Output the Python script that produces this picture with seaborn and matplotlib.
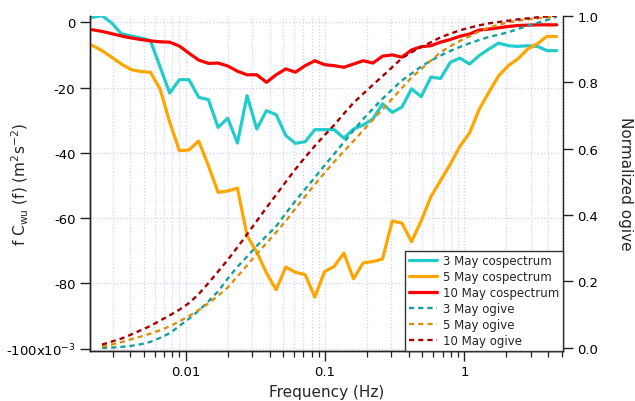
import numpy as np
import pandas as pd
import seaborn as sns
import matplotlib
matplotlib.use("Agg")
import matplotlib.pyplot as plt
from matplotlib.ticker import FixedLocator, FixedFormatter, LogLocator, NullFormatter

# Bin-centre frequencies (Hz), log-spaced bins
freq = [0.002135, 0.002506, 0.002940, 0.003450, 0.004049, 0.004750, 0.005574,
        0.006541, 0.007675, 0.009006, 0.01057, 0.01240, 0.01455, 0.01708,
        0.02004, 0.02351, 0.02759, 0.03237, 0.03799, 0.04458, 0.05231,
        0.06138, 0.07203, 0.08452, 0.09918, 0.1164, 0.1366, 0.1603, 0.1880,
        0.2207, 0.2588, 0.3037, 0.3564, 0.4182, 0.4907, 0.5758, 0.6755,
        0.7927, 0.9302, 1.091, 1.281, 1.503, 1.764, 2.070, 2.429, 2.850,
        3.344, 3.925, 4.605]

# Frequency-weighted w'u' cospectra (x 10^-3 m^2 s^-2)
cosp_3may = [1.5, 2.0, -0.2, -3.5, -4.2, -4.8, -5.6, -13.6, -21.7, -17.6,
             -17.6, -23.0, -23.7, -32.2, -29.4, -37.0, -22.5, -32.7, -27.1,
             -28.3, -34.7, -37.1, -36.6, -32.9, -32.9, -32.9, -35.5, -32.7,
             -31.5, -29.6, -25.0, -27.6, -26.0, -20.4, -22.8, -16.8, -17.2,
             -12.3, -11.0, -12.8, -10.2, -8.2, -6.4, -7.2, -7.4, -7.2, -7.4,
             -8.7, -8.7]
cosp_5may = [-7.1, -8.7, -10.7, -12.8, -14.5, -15.1, -15.3, -20.4, -30.6,
             -39.3, -39.1, -36.4, -43.9, -52.1, -51.7, -50.8, -65.4, -70.4,
             -76.8, -81.9, -75.0, -76.6, -77.3, -84.2, -76.4, -74.8, -70.7,
             -78.6, -73.7, -73.3, -72.5, -60.9, -61.5, -67.2, -60.8, -53.4,
             -48.5, -43.5, -38.0, -33.9, -26.6, -21.4, -16.4, -13.3, -11.2,
             -8.2, -6.6, -4.3, -4.4]
cosp_10may = [-2.3, -2.8, -3.5, -4.2, -4.8, -5.3, -5.7, -6.0, -6.1, -7.3,
              -9.5, -11.6, -12.6, -12.5, -13.4, -15.0, -16.1, -16.1, -18.4,
              -16.1, -14.3, -15.3, -13.3, -11.8, -13.0, -13.3, -13.8, -12.8,
              -11.8, -12.5, -10.4, -10.0, -10.7, -8.5, -7.5, -7.2, -6.1, -5.3,
              -4.3, -3.6, -2.4, -2.1, -1.7, -1.3, -1.0, -0.9, -0.8, -0.8, -0.8]

# Normalized ogives, evaluated from the second bin onward
ogive_freq = freq[1:]
ogive_3may = [0.000, 0.001, 0.003, 0.006, 0.011, 0.018, 0.030, 0.044, 0.066,
              0.088, 0.112, 0.140, 0.170, 0.209, 0.244, 0.275, 0.307, 0.337,
              0.366, 0.405, 0.443, 0.478, 0.513, 0.549, 0.584, 0.619, 0.655,
              0.689, 0.720, 0.750, 0.778, 0.805, 0.826, 0.847, 0.865, 0.880,
              0.894, 0.906, 0.917, 0.927, 0.936, 0.943, 0.950, 0.960, 0.970,
              0.978, 0.987, 0.997]
ogive_5may = [0.004, 0.010, 0.017, 0.026, 0.034, 0.043, 0.053, 0.065, 0.080,
              0.096, 0.114, 0.134, 0.157, 0.182, 0.215, 0.249, 0.283, 0.315,
              0.348, 0.382, 0.420, 0.456, 0.492, 0.527, 0.560, 0.592, 0.623,
              0.655, 0.687, 0.718, 0.750, 0.782, 0.814, 0.839, 0.865, 0.890,
              0.908, 0.924, 0.938, 0.953, 0.964, 0.973, 0.980, 0.985, 0.989,
              0.992, 0.995, 1.000]
ogive_10may = [0.010, 0.019, 0.028, 0.040, 0.053, 0.066, 0.082, 0.098, 0.115,
               0.135, 0.162, 0.195, 0.230, 0.265, 0.303, 0.342, 0.382, 0.422,
               0.461, 0.500, 0.538, 0.574, 0.608, 0.640, 0.671, 0.705, 0.738,
               0.765, 0.792, 0.818, 0.845, 0.872, 0.890, 0.906, 0.920, 0.935,
               0.946, 0.956, 0.964, 0.971, 0.977, 0.981, 0.985, 0.989, 0.992,
               0.995, 0.998, 1.000]

cosp_labels = ["3 May cospectrum", "5 May cospectrum", "10 May cospectrum"]
ogive_labels = ["3 May ogive", "5 May ogive", "10 May ogive"]
left_ticks = [0, -20, -40, -60, -80, -100]
left_tick_labels = ["0", "-20", "-40", "-60", "-80", r"-100x10$^{\mathregular{-3}}$"]
right_ticks = [0.0, 0.2, 0.4, 0.6, 0.8, 1.0]
right_tick_labels = ["0.0", "0.2", "0.4", "0.6", "0.8", "1.0"]
x_ticks = [0.01, 0.1, 1]
x_tick_labels = ["0.01", "0.1", "1"]

sns.set_style("ticks")
plt.rcParams["font.family"] = ["DejaVu Sans"]
plt.rcParams["mathtext.default"] = "regular"

cosp_colors = ["#22cccc", "#ffa500", "#ff0000"]
ogive_colors = ["#15a0a0", "#d6920c", "#a80000"]

fig = plt.figure(figsize=(6.35, 4.02), dpi=100)
ax = fig.add_axes([90 / 635, 1 - 351.7 / 402, (563 - 90) / 635, (351.7 - 16.7) / 402])
ax.set_xscale("log")
ax2 = ax.twinx()

for vals, lab, col in zip([cosp_3may, cosp_5may, cosp_10may], cosp_labels, cosp_colors):
    sns.lineplot(x=freq, y=vals, ax=ax, color=col, lw=2.3, label=lab, sort=False)

for vals, lab, col in zip([ogive_3may, ogive_5may, ogive_10may], ogive_labels, ogive_colors):
    sns.lineplot(x=ogive_freq, y=vals, ax=ax2, color=col, lw=1.7, label=lab, sort=False)

# dashed ogive curves
for line in ax2.get_lines():
    line.set_linestyle((0, (2.2, 1.7)))
    line.set_dash_capstyle("butt")

for a in (ax, ax2):
    leg = a.get_legend()
    if leg is not None:
        leg.remove()

ax.set_xlim(0.002056, 5.11)
ax.set_ylim(-100.6, 2.0)
ax2.set_ylim(-0.0084, 1.0)

ax.xaxis.set_major_locator(FixedLocator(x_ticks))
ax.xaxis.set_major_formatter(FixedFormatter(x_tick_labels))
ax.xaxis.set_minor_locator(LogLocator(base=10, subs=np.arange(2, 10), numticks=20))
ax.xaxis.set_minor_formatter(NullFormatter())
ax.yaxis.set_major_locator(FixedLocator(left_ticks))
ax.yaxis.set_major_formatter(FixedFormatter(left_tick_labels))
ax2.yaxis.set_major_locator(FixedLocator(right_ticks))
ax2.yaxis.set_major_formatter(FixedFormatter(right_tick_labels))

grid_kw = dict(color="#d0d0f6", linestyle=":", linewidth=0.9)
ax.grid(True, which="both", axis="x", **grid_kw)
ax.grid(True, which="major", axis="y", **grid_kw)
ax.set_axisbelow(True)

for a in (ax, ax2):
    a.spines["top"].set_visible(False)
    for s in ("left", "right", "bottom"):
        a.spines[s].set_color("#222222")
        a.spines[s].set_linewidth(1.0)
ax.spines["right"].set_visible(False)

ax.tick_params(axis="x", which="major", direction="out", length=7, width=1, labelsize=9.5, colors="#222222", labelcolor="black")
ax.tick_params(axis="x", which="minor", direction="out", length=4, width=0.9, colors="#222222")
ax.tick_params(axis="y", which="major", direction="out", length=7, width=1, labelsize=9.5, colors="#222222", labelcolor="black")
ax2.tick_params(axis="y", which="major", direction="out", length=7, width=1, labelsize=9.5, colors="#222222", labelcolor="black")

ax.set_xlabel("Frequency (Hz)", fontsize=11)
ax.xaxis.set_label_coords(0.5, -0.100)
ax.set_ylabel(r"f C$_{\mathregular{wu}}$ (f) (m$^{\mathregular{2}}$s$^{\mathregular{-2}}$)", fontsize=11)
ax.yaxis.set_label_coords(-0.124, 0.5)
ax2.set_ylabel("Normalized ogive", fontsize=11, rotation=270, va="bottom")
ax2.yaxis.set_label_coords(1.116, 0.5)

h1, l1 = ax.get_legend_handles_labels()
h2, l2 = ax2.get_legend_handles_labels()
leg = ax2.legend(h1 + h2, l1 + l2, loc="lower right", bbox_to_anchor=(1.0, 0.0),
                 borderaxespad=0.0, fancybox=False, framealpha=1.0, edgecolor="#333333",
                 fontsize=8.5, handlelength=2.4, labelspacing=0.25, handletextpad=0.5,
                 borderpad=0.3)
leg.get_frame().set_linewidth(1.0)

fig.savefig("out.png", dpi=100)
